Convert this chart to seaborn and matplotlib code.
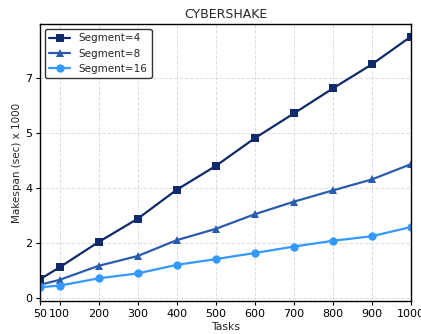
import matplotlib
matplotlib.use("Agg")
import matplotlib.pyplot as plt
import seaborn as sns
import pandas as pd

tasks = [50, 100, 200, 300, 400, 500, 600, 700, 800, 900, 1000]
seg4 = [0.60, 0.99, 1.82, 2.58, 3.53, 4.31, 5.22, 6.03, 6.85, 7.64, 8.55]
seg8 = [0.42, 0.58, 1.04, 1.36, 1.88, 2.25, 2.73, 3.14, 3.51, 3.87, 4.37]
seg16 = [0.34, 0.39, 0.63, 0.79, 1.07, 1.26, 1.46, 1.67, 1.86, 2.01, 2.31]
series_names = ["Segment=4", "Segment=8", "Segment=16"]
ytick_vals = [0, 1.8, 3.6, 5.4, 7.2]
ytick_labels = ["0", "2", "4", "5", "7"]

sns.set_style("white")
plt.rcParams['font.family'] = ['DejaVu Sans']

df = pd.DataFrame({
    "Tasks": tasks * 3,
    "val": seg4 + seg8 + seg16,
    "series": [series_names[0]] * len(tasks) + [series_names[1]] * len(tasks) + [series_names[2]] * len(tasks),
})

fig = plt.figure(figsize=(4.21, 3.34), dpi=100)
ax = fig.add_axes([0.095, 0.099, 0.881, 0.829])
palette = {"Segment=4": "#0f2a6b", "Segment=8": "#2a5cae", "Segment=16": "#3399ff"}
markers = {"Segment=4": "s", "Segment=8": "^", "Segment=16": "o"}
sns.lineplot(data=df, x="Tasks", y="val", hue="series", style="series",
             palette=palette, markers=markers, dashes=False, markersize=6,
             markeredgewidth=0, linewidth=1.6, ax=ax)

ax.set_xlim(50, 1000)
ax.set_ylim(-0.11, 8.96)
ax.set_xticks(tasks)
ax.set_xticklabels([str(t) for t in tasks], fontsize=8)
ax.set_yticks(ytick_vals)
ax.set_yticklabels(ytick_labels, fontsize=8)
ax.tick_params(axis='both', length=3, width=0.8, colors='black', direction='out', left=True, bottom=True, pad=2.5)
ax.grid(True, linestyle='--', color='#dddddd', linewidth=0.7)
for s in ax.spines.values():
    s.set_color('black')
    s.set_linewidth(1.0)
ax.set_xlabel("Tasks", fontsize=7.8, labelpad=2.5)
ax.set_ylabel("Makespan (sec) x 1000", fontsize=7.5, labelpad=2)
ax.set_title("CYBERSHAKE", fontsize=9, pad=4)
leg = ax.legend(loc="upper left", fontsize=7.5, frameon=True, fancybox=True,
                edgecolor='#333333', framealpha=1.0, handlelength=2.0)
leg.set_title(None)

fig.savefig("out.png", dpi=100)
